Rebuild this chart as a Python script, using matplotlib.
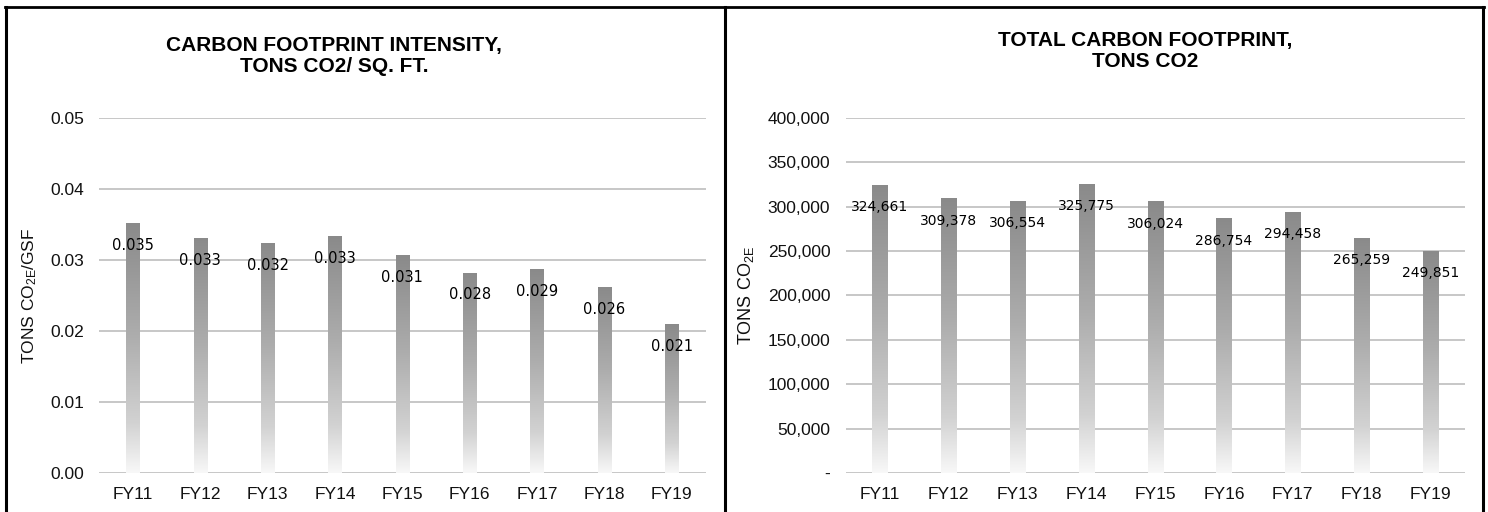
import numpy as np
import matplotlib
matplotlib.use("Agg")
import matplotlib.pyplot as plt
from matplotlib.colors import LinearSegmentedColormap
from matplotlib.lines import Line2D
from matplotlib.ticker import FuncFormatter

years = ["FY11", "FY12", "FY13", "FY14", "FY15", "FY16", "FY17", "FY18", "FY19"]
intensity = [0.0352, 0.0331, 0.0324, 0.0334, 0.0307, 0.0282, 0.0287, 0.0262, 0.0210]
total_co2 = [324661, 309378, 306554, 325775, 306024, 286754, 294458, 265259, 249851]

intensity_ticks = [0.00, 0.01, 0.02, 0.03, 0.04, 0.05]
total_ticks = [0, 50000, 100000, 150000, 200000, 250000, 300000, 350000, 400000]

plt.rcParams['font.family'] = ['Liberation Sans', 'DejaVu Sans']
plt.rcParams['mathtext.default'] = 'regular'

fade = LinearSegmentedColormap.from_list(
    "fade", [(0, "#f8f8f8"), (0.2, "#d2d2d2"), (0.55, "#adadad"), (1, "#8a8a8a")])


def gradient_bars(ax, values, width):
    x = np.arange(len(values))
    bars = ax.bar(x, values, width=width, color="none", zorder=2)
    grad = np.linspace(0, 1, 256).reshape(-1, 1)
    for bar in bars:
        x0 = bar.get_x()
        im = ax.imshow(grad, extent=[x0, x0 + bar.get_width(), 0, bar.get_height()],
                       origin="lower", aspect="auto", cmap=fade, zorder=2)
        im.set_clip_path(bar)
    return x


def style_axes(ax, ticks, fmt):
    ax.set_xlim(-0.5, len(years) - 0.5)
    ax.set_ylim(ticks[0], ticks[-1])
    ax.set_yticks(ticks)
    ax.yaxis.set_major_formatter(FuncFormatter(fmt))
    ax.set_xticks(range(len(years)))
    ax.set_xticklabels(years)
    for s in ax.spines.values():
        s.set_visible(False)
    ax.grid(axis="y", color="#bdbdbd", linewidth=1.2, zorder=0)
    ax.set_axisbelow(True)
    ax.tick_params(axis="both", length=0, labelsize=12.5, colors="#111111")
    ax.tick_params(axis="y", pad=11)
    ax.tick_params(axis="x", pad=10)


def main():
    fig = plt.figure(figsize=(14.88, 5.12), dpi=100)
    ax1 = fig.add_axes([0.0667, 0.0762, 0.4075, 0.6934])
    ax2 = fig.add_axes([0.5683, 0.0762, 0.4160, 0.6934])

    # intensity panel
    x = gradient_bars(ax1, intensity, 0.2)
    style_axes(ax1, intensity_ticks, lambda v, p: f"{v:.2f}")
    for xi, v in zip(x, intensity):
        ax1.annotate(f"{v:.3f}", (xi, v), xytext=(0, -16), textcoords="offset points",
                     ha="center", va="center", fontsize=10.5, family="DejaVu Sans",
                     color="black", zorder=3)
    ax1.set_ylabel("TONS CO$_{2E}$/GSF", fontsize=12.5, color="#111111", labelpad=8)

    # total panel
    x = gradient_bars(ax2, total_co2, 0.22)
    style_axes(ax2, total_ticks, lambda v, p: "-" if v == 0 else f"{v:,.0f}")
    for xi, v in zip(x, total_co2):
        ax2.annotate(f"{v:,}", (xi, v), xytext=(0, -16), textcoords="offset points",
                     ha="center", va="center", fontsize=10, family="DejaVu Sans",
                     color="black", zorder=3)
    ax2.set_ylabel("TONS CO$_{2E}$", fontsize=13, color="#111111", labelpad=8)

    fig.text(334 / 1488, 1 - 56 / 512, "CARBON FOOTPRINT INTENSITY,\nTONS CO2/ SQ. FT.",
             ha="center", va="center", fontsize=15, fontweight="bold", linespacing=1.15)
    fig.text(1145 / 1488, 1 - 51 / 512, "TOTAL CARBON FOOTPRINT,\nTONS CO2",
             ha="center", va="center", fontsize=15, fontweight="bold", linespacing=1.1)

    # panel frames
    top = 1 - 6.5 / 512
    fig.add_artist(Line2D([5 / 1488, 1484 / 1488], [top, top], color="black", lw=2))
    for xp in (6 / 1488, 725 / 1488, 1482.5 / 1488):
        fig.add_artist(Line2D([xp, xp], [0, top], color="black", lw=2.2))

    fig.savefig("out.png", dpi=100, facecolor="white")


if __name__ == "__main__":
    main()
